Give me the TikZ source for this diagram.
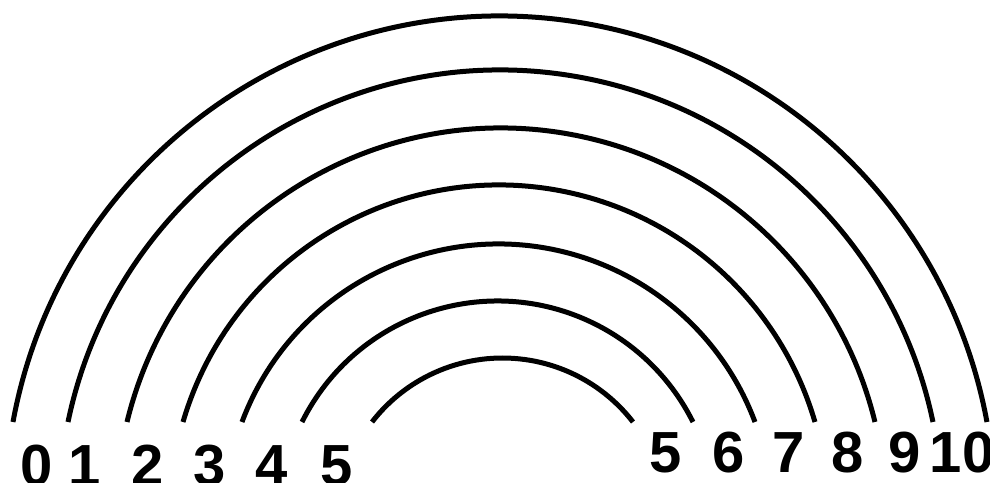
\documentclass[tikz,border=0pt]{standalone}
\usepackage{fontspec}
\setmainfont{Liberation Sans}
\tikzset{
  arcline/.style={line width=5pt, black},
  numlabel/.style={inner sep=0pt, anchor=base, font=\fontsize{58}{58}\selectfont\bfseries}
}
\begin{document}
\begin{tikzpicture}[x=1pt,y=1pt]
        \useasboundingbox (0,0) rectangle (990,482);
        % rainbow arcs: left end, right end, top (picture rows)
        \foreach \xl/\xr/\yt in {13/987/16, 68/933/70, 127/875/128, 183/815/185, 242/755/244, 302/693/301, 372/633/358} {
            \pgfmathsetmacro\w{(\xr-\xl)/2}
            \pgfmathsetmacro\h{422-\yt}
            \pgfmathsetmacro\r{(\w/\h*\w+\h)/2}
            \pgfmathsetmacro\a{asin((\r-\h)/\r)}
            \draw[arcline] (\xl,60) arc[start angle=180-\a, end angle=\a, radius=\r];
        }
        % numbers on the left
        \node[numlabel] (l0) at (37,-3) {0};
        \node[numlabel] (l1) at (85,-3) {1};
        \node[numlabel] (l2) at (148,-3) {2};
        \node[numlabel] (l3) at (210,-3) {3};
        \node[numlabel] (l4) at (272,-3) {4};
        \node[numlabel] (l5) at (337,-3) {5};
        % numbers on the right
        \node[numlabel] (r5) at (666,10) {5};
        \node[numlabel] (r6) at (729,10) {6};
        \node[numlabel] (r7) at (789,10) {7};
        \node[numlabel] (r8) at (848,10) {8};
        \node[numlabel] (r9) at (905,10) {9};
        \node[numlabel] (r10) at (962,10) {10};
\end{tikzpicture}
\end{document}
